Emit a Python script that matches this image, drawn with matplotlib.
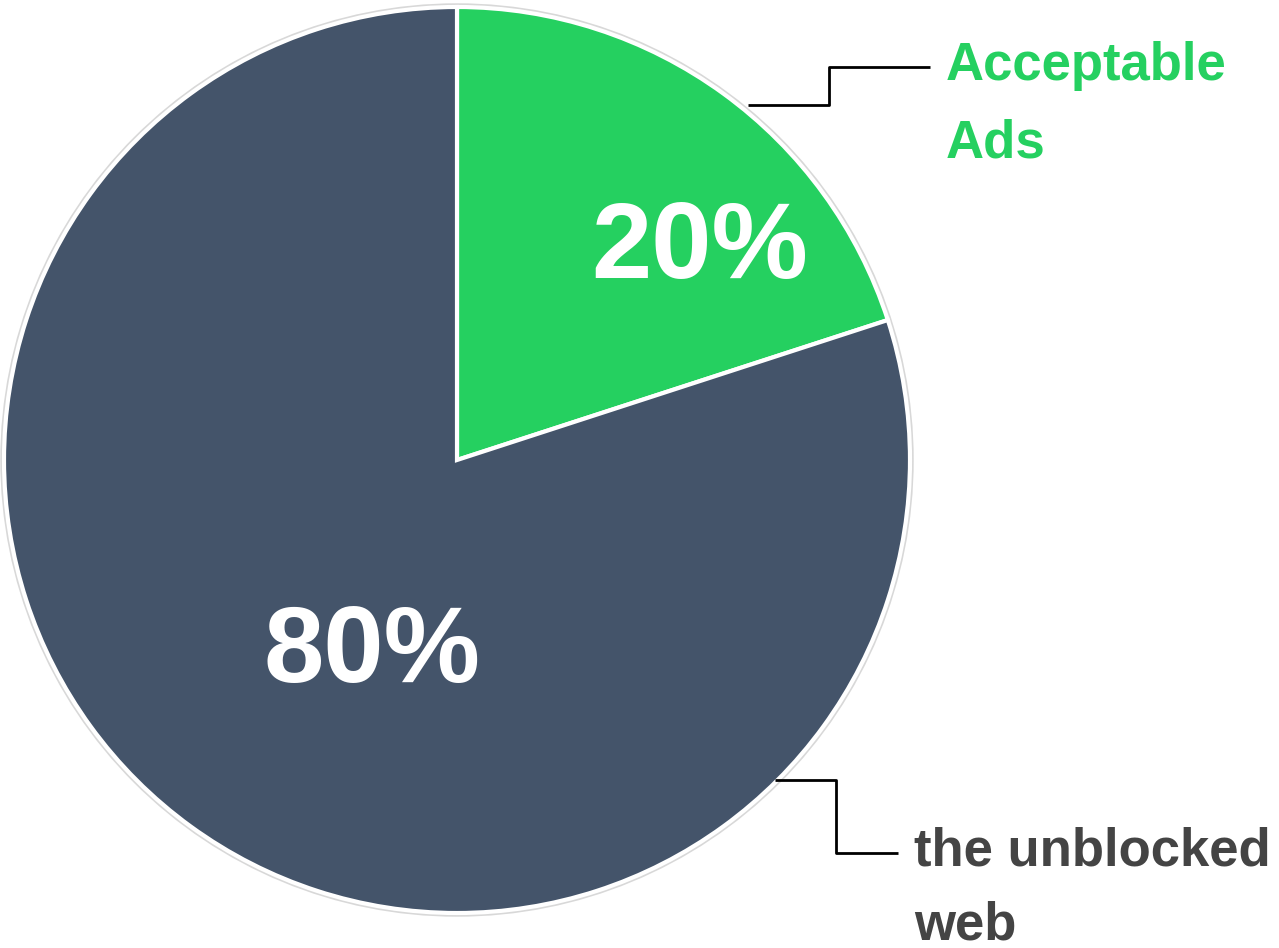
import matplotlib.pyplot as plt
from matplotlib.patches import Circle

labels = ['Acceptable\nAds', 'the unblocked\nweb']
values = [20, 80]
pct_text = ['20%', '80%']
colors = ['#25d060', '#44546a']
text_colors = ['#25d060', '#444444']

W, H = 1279, 948
fig = plt.figure(figsize=(W / 100, H / 100), dpi=100)
ax = fig.add_axes([0, 0, 1, 1])
ax.set_xlim(0, W)
ax.set_ylim(0, H)
ax.set_aspect('equal')
ax.axis('off')

cx, cy, r = 457, H - 460, 453

# faint grey rim behind the pie
ax.add_patch(Circle((cx, cy), r + 2, facecolor='none', edgecolor='#d8d8d8', lw=2.5, zorder=0))

ax.pie(values, colors=colors, startangle=90, counterclock=False,
       center=(cx, cy), radius=r, frame=True,
       wedgeprops=dict(edgecolor='white', linewidth=3))
ax.set_xlim(0, W)
ax.set_ylim(0, H)
ax.axis('off')

# percentages inside slices
ax.text(700, H - 250, pct_text[0], color='white', fontsize=78, fontweight='bold',
        family='Liberation Sans', ha='center', va='center')
ax.text(372, H - 654, pct_text[1], color='white', fontsize=78, fontweight='bold',
        family='Liberation Sans', ha='center', va='center')

# leader lines
ax.plot([748, 829, 829, 930], [H - 105, H - 105, H - 67, H - 67], color='black', lw=2, solid_capstyle='butt')
ax.plot([775, 836, 836, 898], [H - 780, H - 780, H - 853, H - 853], color='black', lw=2, solid_capstyle='butt')

# outside labels (baseline refers to the last line)
ax.text(946, H - 157, labels[0], color=text_colors[0], fontsize=38, fontweight='bold',
        family='Liberation Sans', ha='left', va='baseline', linespacing=1.68)
ax.text(914, H - 940, labels[1], color=text_colors[1], fontsize=38, fontweight='bold',
        family='Liberation Sans', ha='left', va='baseline', linespacing=1.63)

fig.savefig('out.png', dpi=100)
